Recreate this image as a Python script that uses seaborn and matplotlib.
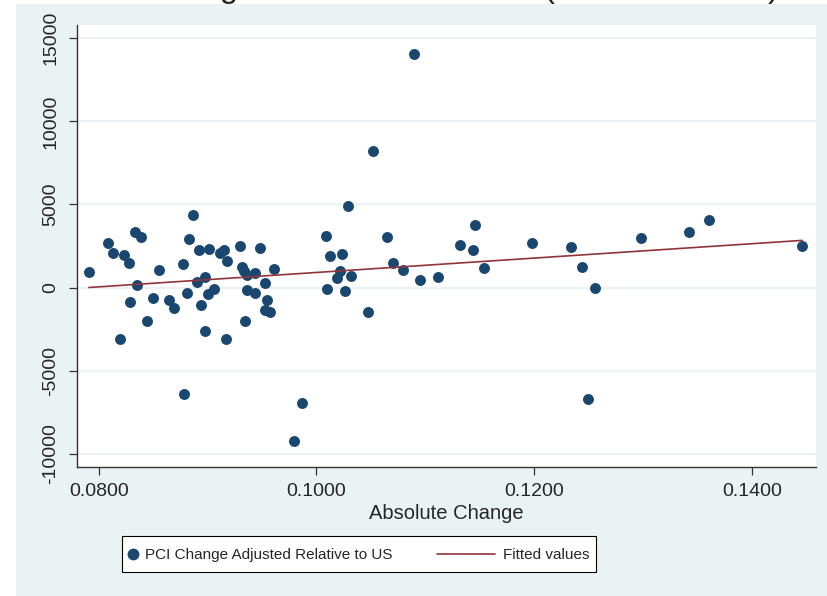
import numpy as np
import matplotlib
matplotlib.use("Agg")
import matplotlib.pyplot as plt
import seaborn as sns
from matplotlib.patches import Rectangle
from matplotlib.lines import Line2D
from matplotlib.legend_handler import HandlerBase

# data
abs_change = [
    0.0791, 0.0809, 0.0813, 0.0823, 0.0828, 0.0833, 0.0839, 0.0835, 0.0829, 0.0850,
    0.0855, 0.0865, 0.0869, 0.0877, 0.0887, 0.0883, 0.0892, 0.0901, 0.0890, 0.0898,
    0.0881, 0.0894, 0.0900, 0.0906, 0.0911, 0.0915, 0.0918, 0.0930, 0.0932, 0.0933,
    0.0936, 0.0948, 0.0944, 0.0961, 0.0953, 0.0936, 0.0944, 0.0955, 0.0953, 0.0957,
    0.0820, 0.0844, 0.0898, 0.0917, 0.0934, 0.0878, 0.0979, 0.0987,
    0.1090, 0.1052, 0.1029, 0.1009, 0.1065, 0.1012, 0.1023, 0.1022, 0.1019, 0.1032,
    0.1070, 0.1079, 0.1095, 0.1112, 0.1132, 0.1146, 0.1144, 0.1154, 0.1198, 0.1234,
    0.1010, 0.1026, 0.1047,
    0.1244, 0.1256, 0.1298, 0.1342, 0.1360, 0.1446, 0.1249,
]
pci_change = [
    950, 2670, 2070, 1970, 1470, 3330, 3030, 140, -860, -640,
    1050, -740, -1240, 1430, 4370, 2930, 2230, 2330, 320, 660,
    -340, -1040, -380, -80, 2070, 2230, 1610, 2470, 1260, 1020,
    760, 2370, 870, 1120, 260, -140, -340, -740, -1340, -1460,
    -3070, -1990, -2590, -3090, -1990, -6380, -9210, -6960,
    14040, 8230, 4920, 3090, 3050, 1890, 1990, 1020, 600, 700,
    1500, 1080, 440, 640, 2550, 3770, 2230, 1180, 2690, 2450,
    -120, -200, -1500,
    1250, -40, 2950, 3350, 4060, 2470, -6720,
]
x_ticks = [0.08, 0.10, 0.12, 0.14]
x_ticklabels = ["0.0800", "0.1000", "0.1200", "0.1400"]
y_ticks = [-10000, -5000, 0, 5000, 10000, 15000]
y_ticklabels = ["-10000", "-5000", "0", "5000", "10000", "15000"]

NAVY = "#1a476f"
MAROON = "#90353b"
BG = "#eaf2f3"


class WideLine(HandlerBase):
    # legend key for the fitted line, drawn wider than the marker key
    def create_artists(self, legend, orig_handle, xdescent, ydescent,
                       width, height, fontsize, trans):
        y = height / 2 - ydescent
        line = Line2D([-xdescent + width - 3.8 * fontsize, -xdescent + width], [y, y],
                      color=orig_handle.get_color(), lw=orig_handle.get_linewidth())
        line.set_transform(trans)
        return [line]


class DotKey(HandlerBase):
    # marker key centred on the same height as the line key
    def create_artists(self, legend, orig_handle, xdescent, ydescent,
                       width, height, fontsize, trans):
        y = height / 2 - ydescent
        dot = Line2D([width / 2 - xdescent], [y], ls="", marker="o",
                     color=orig_handle.get_color(),
                     markersize=orig_handle.get_markersize())
        dot.set_transform(trans)
        return [dot]


sns.set_style("white")
plt.rcParams["font.family"] = ["Liberation Sans", "DejaVu Sans"]

fig = plt.figure(figsize=(8.27, 5.96), dpi=100, facecolor="white")
fig.patches.append(Rectangle((16 / 827, 0), 1 - 16 / 827, 592 / 596,
                             transform=fig.transFigure, facecolor=BG,
                             edgecolor="none", zorder=-10))
ax = fig.add_axes([77 / 827, 1 - 467 / 596, (816 - 77) / 827, (467 - 25) / 596])
ax.set_facecolor("white")

# fitted values from OLS
slope, icpt = np.polyfit(abs_change, pci_change, 1)
fit_x = np.array([min(abs_change), max(abs_change)])
fit_y = icpt + slope * fit_x

ax.set_axisbelow(True)
ax.grid(True, axis="y", color=BG, lw=1.6)
sns.scatterplot(x=abs_change, y=pci_change, ax=ax, color=NAVY, s=62,
                linewidth=0, zorder=3)
sns.lineplot(x=fit_x, y=fit_y, ax=ax, color=MAROON, lw=1.2, zorder=4)

ax.set_xlim(0.07801, 0.14587)
ax.set_ylim(-10802, 15797)
ax.set_xticks(x_ticks)
ax.set_xticklabels(x_ticklabels)
ax.set_yticks(y_ticks)
ax.set_yticklabels(y_ticklabels, rotation=90, va="center")
ax.tick_params(axis="both", direction="out", length=5.8, width=0.9,
               color="#333333", labelsize=14, left=True, bottom=True)
ax.tick_params(axis="y", pad=7)
ax.tick_params(axis="x", pad=5.5)
ax.set_xlabel("Absolute Change", fontsize=14.5, labelpad=3)
ax.set_ylabel("")

for side in ["top", "right"]:
    ax.spines[side].set_visible(False)
for side in ["left", "bottom"]:
    ax.spines[side].set_color("#333333")
    ax.spines[side].set_linewidth(1.0)

# title sits mostly above the picture, only descenders show
fig.text(75 / 827, 1 + 3 / 596, "PCI Change vs. Absolute Level (Relative to US)",
         ha="left", va="baseline", fontsize=24)

dot = Line2D([], [], marker="o", ls="", color=NAVY, markersize=7.5)
fit_line = Line2D([], [], color=MAROON, lw=1.2)
leg = fig.legend([dot, fit_line],
                 ["PCI Change Adjusted Relative to US", "Fitted values"],
                 handler_map={dot: DotKey(), fit_line: WideLine()},
                 loc="center", bbox_to_anchor=(358.7 / 827, 1 - 553.8 / 596),
                 ncol=2, fontsize=11, frameon=True, fancybox=False,
                 edgecolor="black", facecolor="white", framealpha=1,
                 handlelength=0.6, handleheight=2.0, handletextpad=0.52,
                 columnspacing=6.1, borderpad=0.4)
leg.get_frame().set_linewidth(0.8)

plt.savefig("out.png", dpi=100)
